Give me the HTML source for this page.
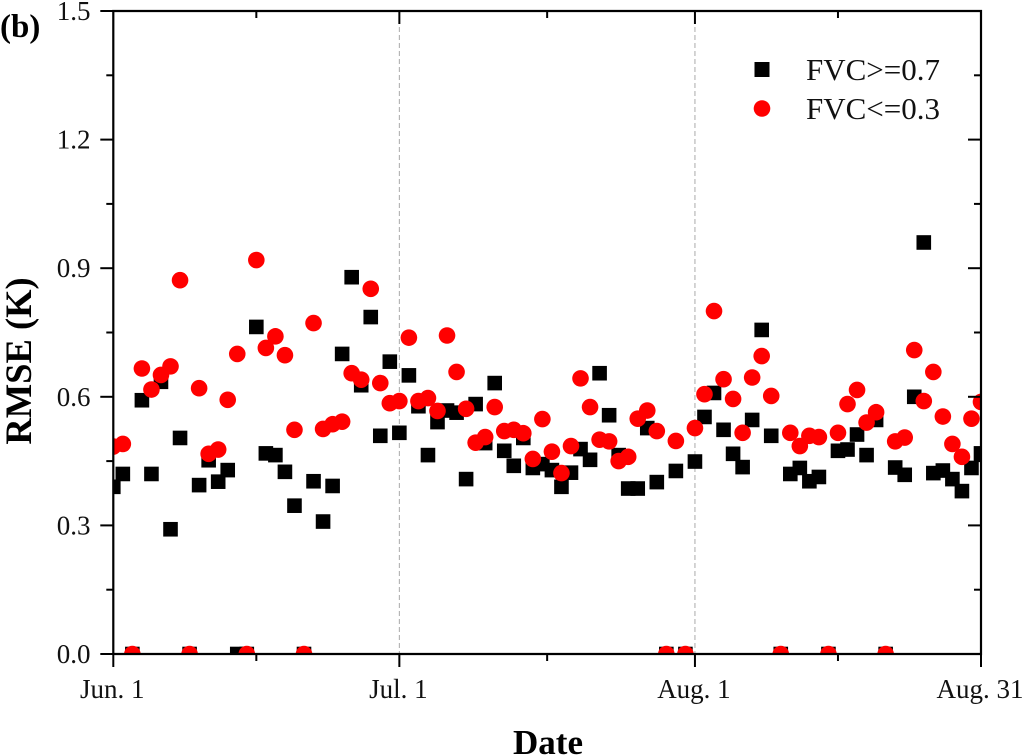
<!DOCTYPE html>
<html lang="en">
<head>
<meta charset="utf-8">
<title>RMSE by date</title>
<style>
html,body{margin:0;padding:0;background:#fff;width:1024px;height:756px;overflow:hidden}
svg{display:block}
text{font-family:"Liberation Serif",serif;fill:#111}
.tick{font-size:27px}
.legend{font-size:31px}
.title{font-size:35px;font-weight:bold;fill:#000}
</style>
</head>
<body>
<svg id="chart" xmlns="http://www.w3.org/2000/svg" width="1024" height="756" viewBox="0 0 1024 756">
<defs><clipPath id="plot-clip"><rect x="113" y="11" width="869" height="643"></rect></clipPath></defs>
<rect x="0" y="0" width="1024" height="756" fill="#fff"></rect>
<g id="grid"></g>
<g id="black-series" clip-path="url(#plot-clip)"></g>
<g id="red-series" clip-path="url(#plot-clip)"></g>
<g id="axes"></g>
<text x="0" y="37" style="font-size:33px;font-weight:bold;fill:#000">(b)</text>
<text class="title" x="548" y="754" text-anchor="middle">Date</text>
<text class="title" text-anchor="middle" style="font-size:36.5px" transform="translate(31,361) rotate(-90)">RMSE (K)</text>
<g>
<rect x="754.5" y="62" width="15" height="15" fill="#000"></rect>
<text class="legend" x="806" y="80" textLength="134" lengthAdjust="spacingAndGlyphs">FVC&gt;=0.7</text>
<circle cx="762" cy="108.5" r="8.3" fill="#f00"></circle>
<text class="legend" x="806" y="119" textLength="134" lengthAdjust="spacingAndGlyphs">FVC&lt;=0.3</text>
</g>
</svg>
<script>
// Day offset from Jun. 1 is the array index.
const fvcHigh = [0.39,0.42,0,0.592,0.42,0.635,0.291,0.504,0,0.394,0.452,0.402,0.429,0,0,0.763,0.468,0.464,0.425,0.346,0,0.403,0.309,0.392,0.70,0.879,0.627,0.786,0.509,0.682,0.516,0.65,0.578,0.464,0.541,0.568,0.563,0.408,0.583,0.492,0.632,0.474,0.439,0.504,0.434,0.443,0.429,0.39,0.423,0.478,0.453,0.655,0.557,0.464,0.386,0.386,0.527,0.401,0,0.427,0,0.449,0.553,0.609,0.523,0.467,0.436,0.546,0.756,0.509,0,0.42,0.434,0.403,0.413,0,0.474,0.477,0.512,0.464,0.546,0,0.435,0.418,0.60,0.96,0.422,0.428,0.408,0.38,0.434,0.468];
const fvcLow = [0.484,0.49,0,0.666,0.617,0.651,0.671,0.872,0,0.62,0.467,0.477,0.593,0.70,0,0.919,0.714,0.741,0.697,0.523,0,0.772,0.525,0.536,0.542,0.655,0.64,0.852,0.632,0.585,0.59,0.738,0.59,0.597,0.567,0.743,0.658,0.572,0.493,0.506,0.576,0.52,0.523,0.515,0.455,0.548,0.472,0.422,0.485,0.643,0.576,0.50,0.496,0.45,0.46,0.549,0.568,0.52,0,0.497,0,0.527,0.606,0.80,0.641,0.595,0.516,0.645,0.695,0.602,0,0.516,0.485,0.509,0.506,0,0.516,0.583,0.616,0.54,0.564,0,0.496,0.505,0.709,0.59,0.658,0.554,0.49,0.46,0.549,0.588];
const xMajorDays = [0,30,61,91];
const xMajorLabels = ["Jun. 1","Jul. 1","Aug. 1","Aug. 31"];
const yMajorValues = [0,0.3,0.6,0.9,1.2,1.5];
const yMajorLabels = ["0.0","0.3","0.6","0.9","1.2","1.5"];
const yMinorValues = [0.15,0.45,0.75,1.05,1.35];

const NS = "http://www.w3.org/2000/svg";
const X0 = 113.3, X1 = 981, Y0 = 654, Y1 = 11, DAY_MAX = 91, V_MAX = 1.5;
function xScale(d){ return X0 + (X1 - X0) * d / DAY_MAX; }
function yScale(v){ return Y0 - (Y0 - Y1) * v / V_MAX; }
function make(tag, attrs, parent){
  const el = document.createElementNS(NS, tag);
  for (const k in attrs) el.setAttribute(k, attrs[k]);
  parent.appendChild(el);
  return el;
}
const blackG = document.getElementById("black-series");
const redG = document.getElementById("red-series");
const axesG = document.getElementById("axes");
const gridG = document.getElementById("grid");

fvcHigh.forEach(function(v, i){
  const s = 14.6;
  const el = make("rect", {x: xScale(i) - s / 2, y: yScale(v) - s / 2, width: s, height: s, fill: "#000"}, blackG);
  
  
});
fvcLow.forEach(function(v, i){
  const el = make("circle", {cx: xScale(i), cy: yScale(v), r: 8.3, fill: "#f00"}, redG);
  
  
});

function line(x1, y1, x2, y2, parent, color, width, dash){
  const attrs = {x1: x1, y1: y1, x2: x2, y2: y2, stroke: color, "stroke-width": width};
  if (dash) attrs["stroke-dasharray"] = dash;
  return make("line", attrs, parent);
}
xMajorDays.forEach(function(d, i){
  const x = xScale(d);
  if (i > 0 && i < xMajorDays.length - 1) {
    const g = line(x, Y1, x, Y0, gridG, "#aaa", 1, "5 3");
    
    
    const tt = line(x, Y1, x, Y1 + 13, axesG, "#000", 2);
    
    
  }
  const t = line(x, Y0, x, Y0 + 13, axesG, "#000", 2);
  
  
  const lab = make("text", {x: x - (i === 3 ? 1 : 1), y: 698, "text-anchor": "middle", class: "tick"}, axesG);
  
  
  lab.textContent = xMajorLabels[i];
  if (i < xMajorDays.length - 1) {
    const mid = (x + xScale(xMajorDays[i + 1])) / 2;
    const m = line(mid, Y0, mid, Y0 + 7, axesG, "#000", 2);
    
    
    const mt = line(mid, Y1, mid, Y1 + 7, axesG, "#000", 2);
    
    
  }
});
yMajorValues.forEach(function(v, i){
  const y = yScale(v);
  const t = line(X0 - 13, y, X0, y, axesG, "#000", 2);
  
  
  const r = line(X1 - 13, y, X1, y, axesG, "#000", 2);
  
  
  const lab = make("text", {x: 90.5, y: y + 9, "text-anchor": "end", class: "tick"}, axesG);
  
  
  lab.textContent = yMajorLabels[i];
});
yMinorValues.forEach(function(v){
  const y = yScale(v);
  const t = line(X0 - 7, y, X0, y, axesG, "#000", 2);
  
  
  const r = line(X1 - 7, y, X1, y, axesG, "#000", 2);
  
  
});
const frame = make("path", {d: "M" + X0 + " " + Y1 + "V" + Y0 + "H" + X1 + "V" + Y1 + "Z", fill: "none", stroke: "#000", "stroke-width": 2.2}, axesG);


</script>
</body>
</html>
